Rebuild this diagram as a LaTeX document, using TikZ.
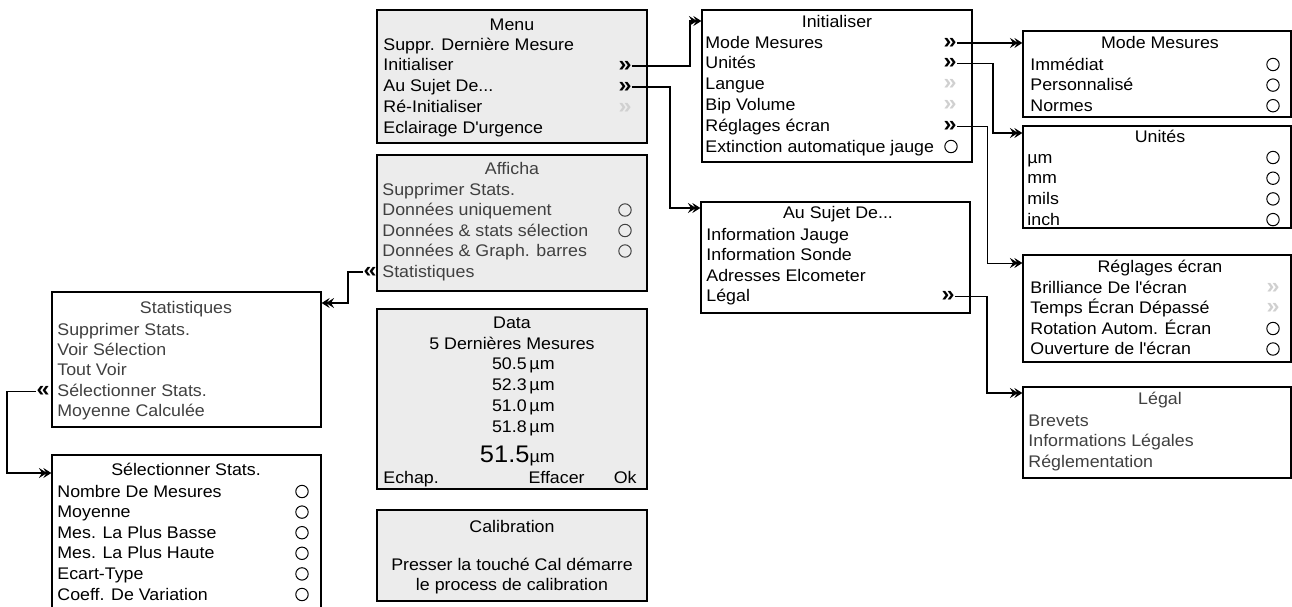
\documentclass[tikz,border=0pt]{standalone}
\usepackage{fontspec}
\setmainfont{Liberation Sans}[FakeStretch=1.06]
\usepackage{tikz}
\usetikzlibrary{arrows.meta,fit}
\usepackage{xcolor}

\definecolor{panelgray}{HTML}{ECECEC}
\definecolor{softtext}{HTML}{404040}
\definecolor{marklight}{HTML}{D0D0D0}
\newcommand{\ellip}{...}
\newcommand{\apos}{\textquotesingle}

\begin{document}
\begin{tikzpicture}[x=0.5pt, y=-0.5pt,
    txt/.style={inner sep=0pt, font=\fontsize{8.4}{10}\selectfont},
    heading/.style={txt, anchor=base},
    entry/.style={txt, anchor=base west},
    menubox/.style={draw, line width=0.65pt, inner sep=0pt},
    shaded/.style={menubox, fill=panelgray},
    fwdmark/.style={inner sep=0pt, anchor=base, font=\fontsize{11}{12}\selectfont\bfseries},
    offmark/.style={fwdmark, text=marklight},
    radio/.style={circle, draw, line width=0.5pt, minimum size=6.2pt, inner sep=0pt},
    link/.style={line width=0.6pt, -{Stealth[length=4pt,width=5pt,inset=1.5pt,sep=-1.8pt]Stealth[length=4pt,width=5pt,inset=1.5pt]}},
]
    \useasboundingbox (0,0) rectangle (1292,606);
    \clip (0,0) rectangle (1292,606);

    % =========================================================================
    % MAIN MENU
    % =========================================================================
    \node[shaded, fit={(377,10) (647,143)}] (menu) {};
    \node[heading] (menu-t) at (512,30) {Menu};
    \foreach \t [count=\i] in {Suppr. Dernière Mesure, Initialiser, Au Sujet De\ellip, Ré-Initialiser, Eclairage D\apos{}urgence} {
        \node[entry] (menu-\i) at (383, {50+20.8*(\i-1)}) {\t};
    }
    \node[fwdmark] (menu-m2) at (625,71) {»};
    \node[fwdmark] (menu-m3) at (625,92) {»};
    \node[offmark] (menu-m4) at (625,113) {»};

    % =========================================================================
    % AFFICHAGE
    % =========================================================================
    \node[shaded, fit={(377,155) (647,291)}] (disp) {};
    \node[heading, text=softtext] (disp-t) at (512,174) {Afficha};
    \foreach \t [count=\i] in {Supprimer Stats., Données uniquement, Données \& stats sélection, Données \& Graph. barres, Statistiques} {
        \node[entry, text=softtext] (disp-\i) at (382, {195+20.5*(\i-1)}) {\t};
    }
    \foreach \i in {2,3,4} {
        \node[radio, draw=softtext] (disp-r\i) at (625, {189.5+20.5*(\i-1)}) {};
    }
    \node[fwdmark] (disp-back) at (370,277) {«};

    % =========================================================================
    % DATA and CALIBRATION screens
    % =========================================================================
    \node[shaded, fit={(377,309) (647,489)}] (data) {};
    \node[heading] (data-t) at (512,328) {Data};
    \node[heading] (data-sub) at (512,349) {5 Dernières Mesures};
    \foreach \v [count=\i] in {50.5, 52.3, 51.0, 51.8} {
        \node[txt, anchor=base east] (data-v\i) at (555, {349+20.8*\i}) {\v\,µm};
    }
    \node[txt, anchor=base east] (data-big) at (555,462) {{\fontsize{12}{14}\selectfont 51.5}µm};
    \node[entry] (data-esc) at (383,483) {Echap.};
    \node[txt, anchor=base east] (data-clr) at (585,483) {Effacer};
    \node[txt, anchor=base east] (data-ok) at (637,483) {Ok};

    \node[shaded, fit={(377,510) (647,601)}] (cal) {};
    \node[heading] (cal-t) at (512,532) {Calibration};
    \node[heading] (cal-1) at (512,570) {Presser la touché Cal démarre};
    \node[heading] (cal-2) at (512,590) {le process de calibration};

    % =========================================================================
    % STATISTIQUES branch (left)
    % =========================================================================
    \node[menubox, fit={(52,292) (321,427)}] (stats) {};
    \node[heading, text=softtext] (stats-t) at (186,313) {Statistiques};
    \foreach \t [count=\i] in {Supprimer Stats., Voir Sélection, Tout Voir, Sélectionner Stats., Moyenne Calculée} {
        \node[entry, text=softtext] (stats-\i) at (57, {335+20.4*(\i-1)}) {\t};
    }
    \node[fwdmark] (stats-back) at (43,396.2) {«};

    \node[menubox, fit={(52,455) (321,620)}] (select) {};
    \node[heading] (select-t) at (186,475) {Sélectionner Stats.};
    \foreach \t [count=\i] in {Nombre De Mesures, Moyenne, Mes. La Plus Basse, Mes. La Plus Haute, Ecart-Type, Coeff. De Variation} {
        \node[entry] (select-\i) at (57, {497+20.6*(\i-1)}) {\t};
        \node[radio] (select-r\i) at (302, {491.5+20.6*(\i-1)}) {};
    }

    % =========================================================================
    % INITIALISER and AU SUJET DE (middle column)
    % =========================================================================
    \node[menubox, fit={(702,10) (972,162)}] (init) {};
    \node[heading] (init-t) at (837,27) {Initialiser};
    \foreach \t [count=\i] in {Mode Mesures, Unités, Langue, Bip Volume, Réglages écran, Extinction automatique jauge} {
        \node[entry] (init-\i) at (705, {48+20.8*(\i-1)}) {\t};
    }
    \node[fwdmark] (init-m1) at (950,48) {»};
    \node[fwdmark] (init-m2) at (950,68.8) {»};
    \node[offmark] (init-m3) at (950,89.6) {»};
    \node[offmark] (init-m4) at (950,110.4) {»};
    \node[fwdmark] (init-m5) at (950,131.2) {»};
    \node[radio] (init-r6) at (951,146.5) {};

    \node[menubox, fit={(701,202) (970,313)}] (about) {};
    \node[heading] (about-t) at (838,218) {Au Sujet De...};
    \foreach \t [count=\i] in {Information Jauge, Information Sonde, Adresses Elcometer, Légal} {
        \node[entry] (about-\i) at (706, {240+20.5*(\i-1)}) {\t};
    }
    \node[fwdmark] (about-m4) at (948,301.5) {»};

    % =========================================================================
    % RIGHT COLUMN
    % =========================================================================
    \node[menubox, fit={(1023,31) (1291,117)}] (mode) {};
    \node[heading] (mode-t) at (1160,48) {Mode Mesures};
    \foreach \t [count=\i] in {Immédiat, Personnalisé, Normes} {
        \node[entry] (mode-\i) at (1030, {70+20.6*(\i-1)}) {\t};
        \node[radio] (mode-r\i) at (1273, {64.5+20.6*(\i-1)}) {};
    }

    \node[menubox, fit={(1023,126) (1291,228)}] (units) {};
    \node[heading] (units-t) at (1160,142) {Unités};
    \foreach \t [count=\i] in {µm, mm, mils, inch} {
        \node[entry] (units-\i) at (1027, {163+20.7*(\i-1)}) {\t};
        \node[radio] (units-r\i) at (1273, {157.5+20.7*(\i-1)}) {};
    }

    \node[menubox, fit={(1023,255) (1291,362)}] (screen) {};
    \node[heading] (screen-t) at (1160,272) {Réglages écran};
    \foreach \t [count=\i] in {Brilliance De l\apos{}écran, Temps Écran Dépassé, Rotation Autom. Écran, Ouverture de l\apos{}écran} {
        \node[entry] (screen-\i) at (1030, {293+20.5*(\i-1)}) {\t};
    }
    \node[offmark] (screen-m1) at (1273,293) {»};
    \node[offmark] (screen-m2) at (1273,313.5) {»};
    \node[radio] (screen-r3) at (1273,328.5) {};
    \node[radio] (screen-r4) at (1273,349) {};

    \node[menubox, fit={(1023,387) (1291,478)}] (legal) {};
    \node[heading, text=softtext] (legal-t) at (1160,404) {Légal};
    \foreach \t [count=\i] in {Brevets, Informations Légales, Réglementation} {
        \node[entry, text=softtext] (legal-\i) at (1028, {426+20.5*(\i-1)}) {\t};
    }

    % =========================================================================
    % CONNECTORS
    % =========================================================================
    \draw[link] (menu-m2.east) -| (690,21) -- (init.west |- 0,21);
    \draw[link] (menu-m3.east) -| (670,208) -- (about.west |- 0,208);
    \draw[link] (init-m1.east) -- (mode.west |- init-m1.east);
    \draw[link] (init-m2.east) -| (993,133) -- (units.west |- 0,133);
    \draw[link, line width=0.4pt] (init-m5.east) -| (987,263) -- (screen.west |- 0,263);
    \draw[link] (about-m4.east) -| (987,393) -- (legal.west |- 0,393);
    \draw[link] (disp-back.west) -| (348,303) -- (stats.east |- 0,303);
    \draw[link] (stats-back.west) -| (7,473) -- (select.west |- 0,473);

\end{tikzpicture}
\end{document}
